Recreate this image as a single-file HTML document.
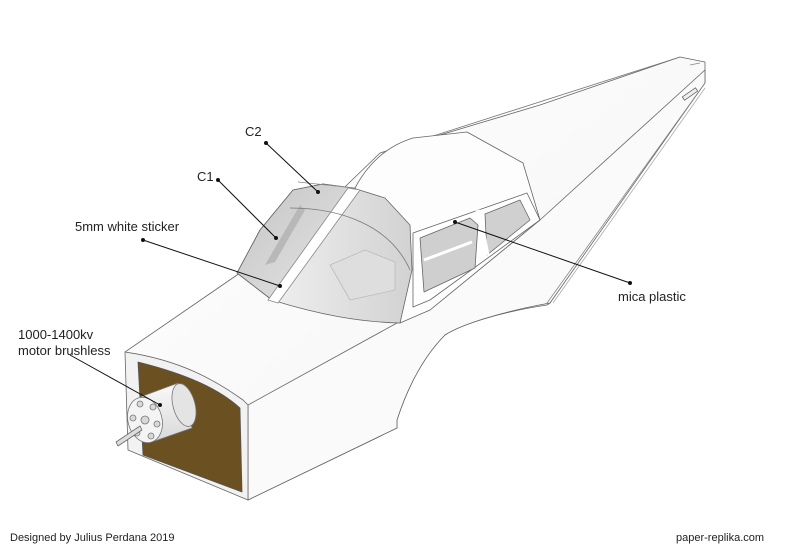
<!DOCTYPE html>
<html><head><style>
html,body{margin:0;padding:0;background:#fff;width:800px;height:549px;overflow:hidden}
svg{display:block}
text{font-family:"Liberation Sans",Arial,sans-serif;font-size:13px;fill:#222}
</style></head><body>
<svg width="800" height="549" viewBox="0 0 800 549" xmlns="http://www.w3.org/2000/svg">
<defs>
<linearGradient id="side" x1="0" y1="0" x2="1" y2="1">
<stop offset="0" stop-color="#fff"/><stop offset="1" stop-color="#f3f3f3"/></linearGradient>
<linearGradient id="glass" x1="0" y1="0" x2="1" y2="1">
<stop offset="0" stop-color="#c4c4c4"/><stop offset="1" stop-color="#e6e6e6"/></linearGradient>
<linearGradient id="glass2" x1="0" y1="0" x2="1" y2="0">
<stop offset="0" stop-color="#f6f6f6"/><stop offset="1" stop-color="#d2d2d2"/></linearGradient>
<linearGradient id="cyl" x1="0" y1="0" x2="0" y2="1">
<stop offset="0" stop-color="#fafafa"/><stop offset="1" stop-color="#d8d8d8"/></linearGradient>
</defs>
<g stroke="#666" stroke-width="0.8" stroke-linejoin="round">
<path d="M125,352 L237,275 L290,240 L380,153 L540,105 L680,57 L705,62 L705,83 L640,170 L550,303 L547,305 C500,312 460,325 445,335 C420,360 405,395 397,420 L397,428 L248,500 L248,405 Z" fill="url(#side)"/>
<path d="M248,405 L397,323 L430,310 L540,220 L705,70 L705,83 L550,303 C500,312 460,325 445,335 C420,360 405,395 397,420 L397,428 L248,500 Z" fill="#fafafa"/>
<path d="M547,303 L705,83" stroke="#888"/>
<path d="M553,303 L705,88" stroke="#aaa"/>
<path d="M380,153 L680,57" stroke="#777"/>
<path d="M700,63 L690,65" stroke="#888"/>
<rect x="682" y="92" width="16" height="4" fill="#eee" transform="rotate(-35 690 94)"/>
<path d="M355,188 C370,160 390,145 413,138 L467,132 L523,163 L540,220 L430,310 L400,323 Z" fill="#fdfdfd"/>
<path d="M413,233 L527,193 L540,220 L430,300 L413,307 Z" fill="#fff"/>
<path d="M420,238 L470,218 L478,225 L475,268 L424,292 Z" fill="#cfcfcf"/>
<path d="M485,214 L520,200 L530,220 L487,255 Z" fill="#d0d0d0"/>
<path d="M424,260 L472,242" stroke="#fff" stroke-width="3"/>
<path d="M478,210 L487,255" stroke="#fff" stroke-width="5"/>
<path d="M237,273 L260,230 L293,190 L323,184 L353,188 L385,198 L410,225 L412,270 L400,323 C360,322 320,315 272,300 Z" fill="url(#glass2)"/>
<path d="M237,273 L260,230 L293,190 L323,184 L353,188 L272,300 Z" fill="url(#glass)"/>
<path d="M265,265 L300,205 L305,210 L275,262 Z" fill="#b8b8b8" stroke="none"/>
<path d="M330,265 L365,250 L395,262 L395,290 L350,300 Z" fill="#dedede" stroke="#bbb"/>
<path d="M268,300 L348,188 L360,190 L278,303 Z" fill="#fff" stroke="#888"/>
<path d="M298,182 L355,188" stroke="#888"/>
<path d="M290,208 C340,208 390,225 410,270" stroke="#777" fill="none"/>
<path d="M125,352 C180,360 215,380 243,400 L248,405 L248,500 L128,450 Z" fill="#f2f2f2" stroke="#666"/>
<path d="M138,362 C190,375 220,390 240,408 L242,492 L143,455 Z" fill="#6b5022" stroke="#555"/>
<!-- motor -->
<path d="M140,397 L178,383 L192,428 L152,442 Z" fill="url(#cyl)" stroke="#777"/>
<ellipse cx="184" cy="405" rx="11" ry="22" fill="#e4e4e4" stroke="#777" transform="rotate(-15 184 405)"/>
<ellipse cx="145" cy="420" rx="17" ry="23" fill="#f4f4f4" stroke="#777" transform="rotate(-15 145 420)"/>
<g fill="#d8d8d8" stroke="#777">
<circle cx="140" cy="404" r="3"/><circle cx="153" cy="407" r="3"/><circle cx="157" cy="424" r="3"/>
<circle cx="151" cy="436" r="3"/><circle cx="137" cy="433" r="3"/><circle cx="133" cy="418" r="3"/>
<circle cx="145" cy="420" r="4"/>
</g>
<path d="M116,442 L140,426 L142,430 L118,446 Z" fill="#ddd"/>
</g>
<g stroke="#111" stroke-width="1" fill="#111">
<line x1="266" y1="143" x2="318" y2="192"/><circle cx="266" cy="143" r="1.5"/><circle cx="318" cy="192" r="1.5"/>
<line x1="218" y1="180" x2="276" y2="238"/><circle cx="218" cy="180" r="1.5"/><circle cx="276" cy="238" r="1.5"/>
<line x1="143" y1="240" x2="280" y2="286"/><circle cx="143" cy="240" r="1.5"/><circle cx="280" cy="286" r="1.5"/>
<line x1="455" y1="222" x2="630" y2="283"/><circle cx="455" cy="222" r="1.5"/><circle cx="630" cy="283" r="1.5"/>
<line x1="70" y1="355" x2="160" y2="405"/><circle cx="160" cy="405" r="1.5"/>
</g>
<text x="245" y="136">C2</text>
<text x="197" y="181">C1</text>
<text x="75" y="231">5mm white sticker</text>
<text x="618" y="301">mica plastic</text>
<text x="18" y="339">1000-1400kv</text>
<text x="18" y="355">motor brushless</text>
<text x="10" y="541" style="font-size:11px">Designed by Julius Perdana 2019</text>
<text x="676" y="541" style="font-size:11px">paper-replika.com</text>
</svg>
</body></html>
